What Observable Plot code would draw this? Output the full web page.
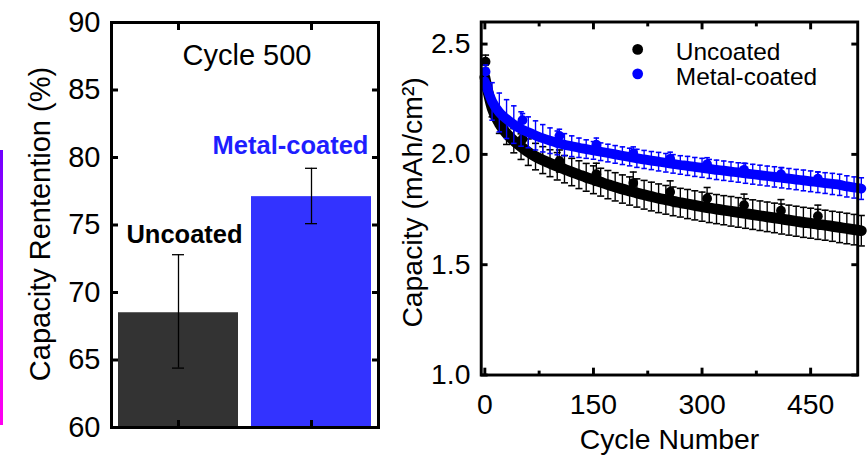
<!DOCTYPE html>
<html><head><meta charset="utf-8">
<script src="https://cdn.jsdelivr.net/npm/d3@7"></script>
<script src="https://cdn.jsdelivr.net/npm/@observablehq/plot@0.6"></script>
<style>
html,body{margin:0;padding:0;background:#fff;overflow:hidden;width:867px;height:457px;}
#wrap{position:relative;width:867px;height:457px;overflow:hidden;}
#left,#right{position:absolute;top:0;}
#left{left:0}
#right{left:380px}
#accent{position:absolute;left:0;top:150px;width:3px;height:275px;background:linear-gradient(#6e00ff,#d000ff 45%,#ff00f0);}
</style></head><body>
<div id="wrap"><div id="left"></div><div id="right"></div><div id="accent"></div></div>
<script>
// ---------- Left panel data (Cycle 500 retention) ----------
const barGroups = ["Uncoated", "Metal-coated"];
const barValues = [68.5, 77.1];
const barErrLow = [64.4, 75.1];
const barErrHigh = [72.8, 79.2];
const barColors = ["#333333", "#3333ff"];
const barLabelColors = ["#000000", "#1e1eff"];
const retentionTicks = [60, 65, 70, 75, 80, 85, 90];

// ---------- Right panel data (capacity vs cycle) ----------
const cycles = [0,10,20,30,40,50,60,70,80,90,
  100,110,120,130,140,150,160,170,180,190,
  200,210,220,230,240,250,260,270,280,290,
  300,310,320,330,340,350,360,370,380,390,
  400,410,420,430,440,450,460,470,480,490,
  500,510,520];
const uncoatedFit = [2.35,2.21,2.14,2.095,2.062,2.035,2.01,1.99,1.974,1.96,
  1.946,1.933,1.92,1.908,1.896,1.885,1.874,1.863,1.853,1.843,
  1.834,1.825,1.817,1.809,1.801,1.794,1.787,1.781,1.775,1.769,
  1.763,1.757,1.752,1.747,1.742,1.737,1.732,1.727,1.722,1.717,
  1.712,1.707,1.702,1.697,1.692,1.688,1.683,1.679,1.674,1.669,
  1.664,1.659,1.654];
const uncoatedErr = [0.03,0.04,0.045,0.05,0.055,0.058,0.06,0.06,0.061,0.061,
  0.062,0.062,0.062,0.063,0.063,0.063,0.063,0.064,0.064,0.064,
  0.064,0.064,0.065,0.065,0.065,0.065,0.065,0.065,0.066,0.066,
  0.066,0.066,0.066,0.066,0.067,0.067,0.067,0.067,0.067,0.067,
  0.067,0.068,0.068,0.068,0.068,0.068,0.068,0.068,0.068,0.069,
  0.069,0.069,0.069];
const coatedFit = [2.33,2.24,2.19,2.16,2.135,2.115,2.10,2.086,2.073,2.062,
  2.052,2.044,2.037,2.03,2.024,2.018,2.012,2.006,2.0,1.994,
  1.988,1.982,1.977,1.972,1.967,1.962,1.957,1.952,1.948,1.943,
  1.939,1.934,1.93,1.926,1.922,1.918,1.914,1.91,1.906,1.902,
  1.898,1.894,1.89,1.886,1.882,1.878,1.874,1.87,1.866,1.862,
  1.855,1.85,1.845];
const coatedErr = [0.04,0.085,0.088,0.088,0.085,0.078,0.07,0.066,0.062,0.058,
  0.054,0.05,0.047,0.044,0.042,0.04,0.04,0.04,0.04,0.04,
  0.04,0.041,0.041,0.041,0.042,0.042,0.042,0.042,0.043,0.043,
  0.043,0.043,0.044,0.044,0.044,0.044,0.045,0.045,0.045,0.045,
  0.046,0.046,0.046,0.046,0.047,0.047,0.047,0.047,0.048,0.048,
  0.048,0.048,0.049];
const markerCycles = [1,52,103,154,205,256,307,358,409,460];
const uncoatedMarkers = [2.42,2.07,1.97,1.91,1.87,1.83,1.80,1.77,1.745,1.72];
const uncoatedMarkerErr = [0.03,0.05,0.05,0.05,0.05,0.05,0.05,0.05,0.05,0.05];
const coatedMarkers = [2.375,2.155,2.084,2.044,2.004,1.98,1.955,1.93,1.91,1.89];
const coatedMarkerErr = [0.03,0.03,0.03,0.03,0.03,0.03,0.03,0.03,0.03,0.03];
const capacityTicks = [1.0, 1.5, 2.0, 2.5];
const cycleTicks = [0, 150, 300, 450];
const cycleMinorTicks = [75, 225, 375];
const seriesNames = ["Uncoated", "Metal-coated"];
const seriesColors = ["#000000", "#0000ff"];

const font = "'Liberation Sans', Arial, Helvetica, sans-serif";

// ---------- Left panel ----------
const bars = barGroups.map((g, i) => ({group: g, value: barValues[i], lo: barErrLow[i], hi: barErrHigh[i], color: barColors[i], lc: barLabelColors[i]}));
const yMin = retentionTicks[0];

const left = Plot.plot({
  width: 400, height: 457,
  marginLeft: 111, marginRight: 22, marginTop: 22, marginBottom: 30,
  style: {fontFamily: font, fontSize: "28px", color: "#000", background: "transparent", overflow: "visible"},
  x: {domain: barGroups, paddingInner: 0.1, paddingOuter: 0.05},
  y: {domain: [retentionTicks[0], retentionTicks[retentionTicks.length - 1]]},
  color: {type: "identity"},
  marks: [
    Plot.barY(bars, {x: "group", y1: yMin, y2: "value", fill: "color"}),
    Plot.ruleX(bars, {x: "group", y1: "lo", y2: "hi", stroke: "#000", strokeWidth: 1.3}),
    Plot.tickY(bars, {x: "group", y: "lo", insetLeft: 54, insetRight: 54, stroke: "#000", strokeWidth: 1.3}),
    Plot.tickY(bars, {x: "group", y: "hi", insetLeft: 54, insetRight: 54, stroke: "#000", strokeWidth: 1.3}),
    Plot.frame({stroke: "#000", strokeWidth: 3}),
    Plot.axisY(retentionTicks, {anchor: "left", tickSize: -7, tickPadding: 18, strokeWidth: 3, label: null, fontSize: 29}),
    Plot.axisY(retentionTicks, {anchor: "right", tickSize: -7, tickFormat: () => "", strokeWidth: 3, label: null}),
    Plot.axisX({anchor: "bottom", tickSize: -7, tickFormat: () => "", strokeWidth: 3, label: null}),
    Plot.axisX({anchor: "top", tickSize: -7, tickFormat: () => "", strokeWidth: 3, label: null}),
    Plot.text(["Cycle 500"], {text: d => d, frameAnchor: "top", lineAnchor: "middle", dx: 2, dy: 33, fontSize: 29}),
    Plot.text(bars.slice(0, 1), {x: "group", y: "hi", text: "group", dx: 6, dy: -20, fontSize: 25.5, fontWeight: "bold", fill: "lc"}),
    Plot.text(bars.slice(1, 2), {x: "group", y: "hi", text: "group", dx: -21, dy: -22, fontSize: 25.5, fontWeight: "bold", fill: "lc"}),
    Plot.text(["Capacity Rentention (%)"], {text: d => d, frameAnchor: "left", textAnchor: "middle", lineAnchor: "middle", rotate: -90, dx: -71, dy: -1, fontSize: 29})
  ]
});
document.getElementById("left").append(left);

// ---------- Right panel ----------
const unc = cycles.map((c, i) => ({c, v: uncoatedFit[i], lo: uncoatedFit[i] - uncoatedErr[i], hi: uncoatedFit[i] + uncoatedErr[i]}));
const coa = cycles.map((c, i) => ({c, v: coatedFit[i], lo: coatedFit[i] - coatedErr[i], hi: coatedFit[i] + coatedErr[i]}));
const uncM = markerCycles.map((c, i) => ({c, v: uncoatedMarkers[i], lo: uncoatedMarkers[i] - uncoatedMarkerErr[i], hi: uncoatedMarkers[i] + uncoatedMarkerErr[i]}));
const coaM = markerCycles.map((c, i) => ({c, v: coatedMarkers[i], lo: coatedMarkers[i] - coatedMarkerErr[i], hi: coatedMarkers[i] + coatedMarkerErr[i]}));

const hline = {draw(context, size) { const w = Math.sqrt(size / Math.PI); context.moveTo(-w, 0); context.lineTo(w, 0); }};

function seriesMarks(fit, markers, color, capR, lw) {
  return [
    Plot.ruleX(fit, {x: "c", y1: "lo", y2: "hi", stroke: color, strokeWidth: 1.4}),
    Plot.dot(fit, {x: "c", y: "lo", symbol: hline, r: capR, stroke: color, fill: "none", strokeWidth: 1.6}),
    Plot.dot(fit, {x: "c", y: "hi", symbol: hline, r: capR, stroke: color, fill: "none", strokeWidth: 1.6}),
    Plot.line(fit, {x: "c", y: "v", stroke: color, strokeWidth: lw, curve: "monotone-x", strokeLinecap: "round"}),
    Plot.ruleX(markers, {x: "c", y1: "lo", y2: "hi", stroke: color, strokeWidth: 1.4}),
    Plot.dot(markers, {x: "c", y: "lo", symbol: hline, r: capR, stroke: color, fill: "none", strokeWidth: 1.6}),
    Plot.dot(markers, {x: "c", y: "hi", symbol: hline, r: capR, stroke: color, fill: "none", strokeWidth: 1.6}),
    Plot.dot(markers, {x: "c", y: "v", r: 5, fill: color, stroke: "none"})
  ];
}

const right = Plot.plot({
  width: 498, height: 457,
  marginLeft: 103, marginRight: 10, marginTop: 22, marginBottom: 74,
  style: {fontFamily: font, fontSize: "28px", color: "#000", background: "transparent", overflow: "visible"},
  x: {domain: [-5, 515]},
  y: {domain: [1.0, 2.6]},
  marks: [
    ...seriesMarks(unc, uncM, seriesColors[0], 3.6, 11),
    ...seriesMarks(coa, coaM, seriesColors[1], 2.8, 10),
    Plot.frame({stroke: "#000", strokeWidth: 3}),
    Plot.axisY(capacityTicks, {anchor: "left", tickSize: -7, tickPadding: 18, tickFormat: d3.format(".1f"), strokeWidth: 3, label: null, fontSize: 29}),
    Plot.axisY(capacityTicks, {anchor: "right", tickSize: -7, tickFormat: () => "", strokeWidth: 3, label: null}),
    Plot.axisX(cycleTicks, {anchor: "bottom", tickSize: -7, tickPadding: 26, tickFormat: d3.format("d"), strokeWidth: 3, label: null, fontSize: 29}),
    Plot.axisX(cycleMinorTicks, {anchor: "bottom", tickSize: -4, tickFormat: () => "", strokeWidth: 3, label: null}),
    Plot.axisX(cycleTicks, {anchor: "top", tickSize: -7, tickFormat: () => "", strokeWidth: 3, label: null}),
    Plot.axisX(cycleMinorTicks, {anchor: "top", tickSize: -4, tickFormat: () => "", strokeWidth: 3, label: null}),
    Plot.dot(seriesNames.slice(0, 1), {frameAnchor: "top-left", dx: 160, dy: 28, r: 5.5, fill: seriesColors[0]}),
    Plot.dot(seriesNames.slice(1, 2), {frameAnchor: "top-left", dx: 160, dy: 53, r: 5.5, fill: seriesColors[1]}),
    Plot.text(seriesNames.slice(0, 1), {text: d => d, frameAnchor: "top-left", lineAnchor: "middle", dx: 199, dy: 31, textAnchor: "start", fontSize: 25}),
    Plot.text(seriesNames.slice(1, 2), {text: d => d, frameAnchor: "top-left", lineAnchor: "middle", dx: 199, dy: 56, textAnchor: "start", fontSize: 25}),
    Plot.text(["Capacity (mAh/cm²)"], {text: d => d, frameAnchor: "left", textAnchor: "middle", lineAnchor: "middle", rotate: -90, dx: -70, dy: 4, fontSize: 29}),
    Plot.text(["Cycle Number"], {text: d => d, frameAnchor: "bottom", lineAnchor: "middle", dy: 66, fontSize: 29})
  ]
});
document.getElementById("right").append(right);
</script>
</body></html>
